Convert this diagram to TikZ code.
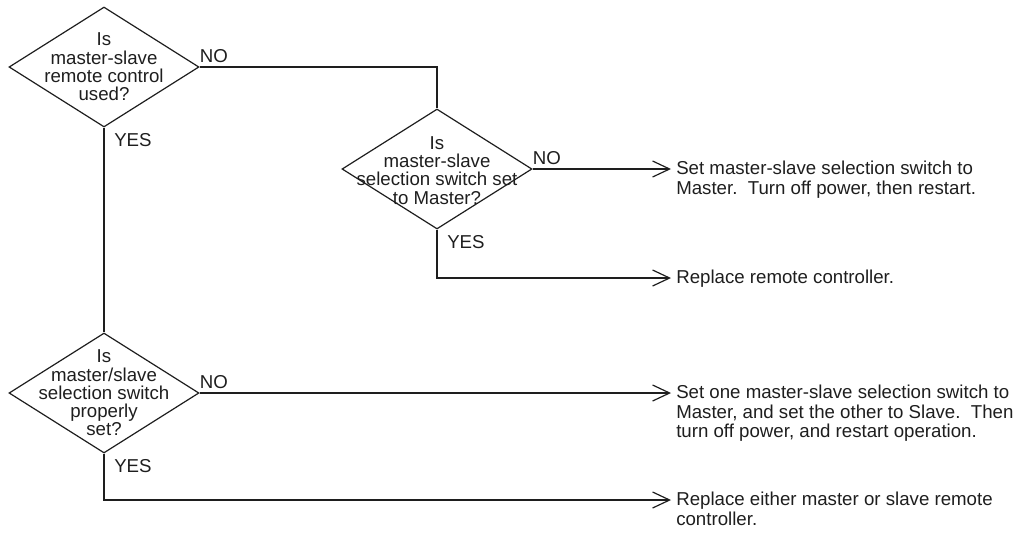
\documentclass[tikz,border=0pt]{standalone}
\usepackage{fontspec}
\setmainfont{Liberation Sans}
\usetikzlibrary{shapes.geometric,arrows.meta}
\definecolor{tsInk}{RGB}{30,30,30}

\begin{document}
\begin{tikzpicture}[
  x=0.75pt, y=-0.75pt,
  dec/.style={
    draw=tsInk, line width=0.9pt, diamond, inner sep=0pt,
    minimum width=142.5pt, minimum height=90pt
  },
  qtext/.style={
    align=center, inner sep=0pt, text=tsInk,
    font=\fontsize{14}{13.7}\selectfont
  },
  act/.style={
    anchor=north west, align=left, inner xsep=3.75pt, inner ysep=0pt,
    text=tsInk, font=\fontsize{14}{14.6}\selectfont
  },
  lbl/.style={inner sep=0pt, text=tsInk, font=\fontsize{14}{14}\selectfont},
  line/.style={draw=tsInk, line width=0.9pt},
  arr/.style={line, -{Straight Barb[length=12.75pt, width=12pt]}},
]
\useasboundingbox (0,0) rectangle (1030,533);

%% Decisions
\node[dec] (q1) at (104,67)  {};
\node[dec] (q2) at (437,169) {};
\node[dec] (q3) at (104,393) {};
\node[qtext] (q1t) at (q1) {Is\\master-slave\\remote control\\used?};
\node[qtext] (q2t) at ([yshift=-1pt]q2) {Is\\master-slave\\selection switch set\\to Master?};
\node[qtext] (q3t) at (q3) {Is\\master/slave\\selection switch\\properly\\set?};

%% Arrow ends
\coordinate (e1) at (671,169);
\coordinate (e2) at (671,278);
\coordinate (e3) at (671,393);
\coordinate (e4) at (671,500);

%% Remedies
\node[act] (act1) at ([yshift=6pt]e1) {Set master-slave selection switch to\\Master.\ \ Turn off power, then restart.};
\node[act] (act2) at ([yshift=6pt]e2) {Replace remote controller.};
\node[act] (act3) at ([yshift=6pt]e3) {Set one master-slave selection switch to\\Master, and set the other to Slave.\ \ Then\\turn off power, and restart operation.};
\node[act] (act4) at ([yshift=6pt]e4) {Replace either master or slave remote\\controller.};

%% ── Connectors ─────────────────────────────────────────────

% first question
\draw[line] (q1.east) -| (q2.north);
\node[lbl, anchor=south west] (no1) at ([yshift=3pt]q1.east) {NO};
\draw[line] (q1.south) -- (q3.north);
\node[lbl, anchor=north west] (yes1) at ([xshift=7.5pt, yshift=-4pt]q1.south) {YES};

% switch set to master?
\draw[arr] (q2.east) -- (e1);
\node[lbl, anchor=south west] (no2) at ([yshift=3pt]q2.east) {NO};
\draw[arr] (q2.south) |- (e2);
\node[lbl, anchor=north west] (yes2) at ([xshift=7.5pt, yshift=-4pt]q2.south) {YES};

% switch properly set?
\draw[arr] (q3.east) -- (e3);
\node[lbl, anchor=south west] (no3) at ([yshift=3pt]q3.east) {NO};
\draw[arr] (q3.south) |- (e4);
\node[lbl, anchor=north west] (yes3) at ([xshift=7.5pt, yshift=-4pt]q3.south) {YES};

\end{tikzpicture}
\end{document}
